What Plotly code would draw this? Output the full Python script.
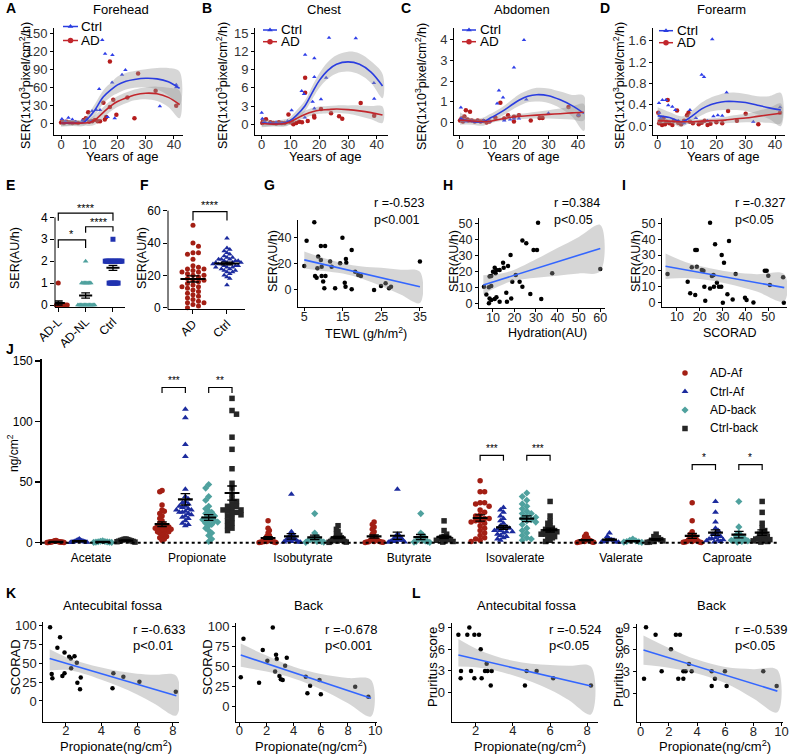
import numpy as np
import plotly.graph_objects as go

W, H = 790, 755
FONT = "Liberation Sans, Arial, sans-serif"

# ------------------------------------------------------------------ DATA
# Panel A-D : sebum excretion rate vs age
fit_age = [0, 4, 8, 10, 12, 15, 18, 20, 23, 26, 30, 34, 38, 42]

A_ctrl_age = [0.3, 1.5, 2.6, 4.0, 5.2, 7.5, 9.0, 10.5, 11.0, 12.5, 13.5, 13.8, 14.6, 15.6, 16.5, 18.1, 18.2, 19.0, 21.6, 22.8, 35.0, 40.8, 40.8]
A_ctrl_val = [7, 3, 9, 6, 2, 4, 6, 3, 20, 22, 57, 22, 139, 116, 10, 68, 114, 8, 81, 89, 28, 64, 60]
A_ad_age = [0, 0.5, 1, 2, 3, 4, 5, 6, 8, 8.8, 9.6, 10, 11, 12, 13, 13.8, 15, 15.5, 16, 17.3, 17.3, 18.5, 19.6, 23.5, 26, 27.3, 33.5, 40.8]
A_ad_val = [1, 3, 0, 2, 1, 0, 1, 0, 5, 8, 18, 2, 3, 5, 3, 3, 34, 6, 10, 103, 27, 39, 14, 43, 8, 83, 54, 29]
A_ctrl_fit = [0, 0, 1, 10, 22, 44, 57, 64, 70, 73, 75, 74, 69, 58]
A_ctrl_lo = [-6, -5, -5, 2, 12, 33, 45, 50, 56, 59, 60, 56, 46, 30]
A_ctrl_hi = [6, 5, 7, 18, 32, 55, 69, 78, 84, 87, 90, 92, 92, 86]
A_ad_fit = [0, 0, 0, 1, 5, 18, 30, 36, 42, 47, 50, 49, 43, 31]
A_ad_lo = [-5, -4, -4, -5, -3, 9, 21, 27, 33, 38, 40, 37, 27, 8]
A_ad_hi = [5, 4, 4, 7, 13, 27, 39, 45, 51, 56, 60, 61, 59, 54]

B_ctrl_age = [0, 0.2, 1, 3, 5, 7, 9, 10.4, 13.9, 14.7, 15, 15.1, 17.7, 18.3, 18.3, 18.3, 20.6, 22.4, 23.4, 32.7, 39, 39.1]
B_ctrl_val = [1.9, 0.9, 0.4, 0.2, 0.3, 0.2, 0.5, 2.3, 5.5, 5.0, 1.1, 11.5, 3.7, 10.9, 7.8, 2.6, 4.1, 7.7, 14.3, 14.2, 6.8, 4.2]
B_ad_age = [0.2, 0.5, 1.5, 3, 4, 5, 6, 7, 8, 9.3, 10, 10.5, 11, 12, 13, 14, 15.1, 15.1, 16, 18.2, 18.3, 20.6, 24.1, 26.9, 28, 34.4, 39.1]
B_ad_val = [0.2, 0.6, 0.8, 0.3, 0.2, 0.1, 0.3, 0.2, 0.2, 1.6, 0.3, 0.5, 0.0, 0.2, 0.4, 0.3, 7.7, 5.2, 0.5, 1.4, 1.1, 2.5, 1.8, 1.3, 0.9, 3.5, 1.4]
B_ctrl_fit = [0.2, 0.1, 0.2, 0.6, 1.4, 3.0, 5.6, 7.2, 8.9, 9.9, 10.3, 9.9, 8.6, 6.3]
B_ctrl_lo = [-0.5, -0.4, -0.4, 0.0, 0.6, 2.1, 4.5, 6.0, 7.5, 8.4, 8.7, 8.2, 6.8, 4.3]
B_ctrl_hi = [0.9, 0.6, 0.8, 1.2, 2.2, 3.9, 6.7, 8.4, 10.3, 11.4, 12.0, 11.7, 10.4, 8.3]
B_ad_fit = [0.1, 0.0, 0.1, 0.4, 0.9, 1.6, 2.1, 2.3, 2.4, 2.5, 2.4, 2.2, 1.9, 1.5]
B_ad_lo = [-0.4, -0.3, -0.3, 0.0, 0.4, 1.0, 1.5, 1.7, 1.8, 1.9, 1.7, 1.3, 0.8, 0.2]
B_ad_hi = [0.6, 0.3, 0.5, 0.8, 1.4, 2.2, 2.7, 2.9, 3.0, 3.1, 3.1, 3.1, 3.0, 2.9]

C_ctrl_age = [0.3, 0.4, 1.0, 2.0, 4.0, 6.0, 8.0, 10.0, 12.6, 13.2, 14.6, 15.0, 17.0, 18.3, 18.3, 20.0, 21.7, 22.5, 30.0, 40.2]
C_ctrl_val = [0.73, 0.2, 0.1, 0.05, 0.08, 0.05, 0.1, 0.05, 0.92, 1.55, 1.21, 0.1, 0.15, 2.67, 0.2, 0.2, 4.0, 1.12, 0.45, 0.36]
C_ad_age = [0, 0.5, 1, 1.5, 2, 2.5, 3, 3.4, 4, 5, 6, 7, 8, 9, 10, 12, 13.7, 15, 16.3, 18.3, 18.3, 20, 24, 27, 28, 36.8, 40.2]
C_ad_val = [0.1, 0.2, 0.05, 0.3, 0.6, 0.15, 0.1, 0.52, 0.1, 0.05, 0.1, 0.05, 0.08, 0.0, 0.05, 0.25, 0.96, 0.2, 0.36, 0.28, 0.05, 0.35, 0.1, 0.22, 0.22, 0.76, 0.36]
C_ctrl_fit = [0.2, 0.05, 0.05, 0.2, 0.35, 0.6, 0.9, 1.08, 1.27, 1.35, 1.3, 1.1, 0.82, 0.45]
C_ctrl_lo = [-0.1, -0.1, -0.15, 0.0, 0.15, 0.38, 0.65, 0.8, 0.98, 1.02, 0.95, 0.7, 0.3, -0.4]
C_ctrl_hi = [0.5, 0.2, 0.25, 0.4, 0.55, 0.82, 1.15, 1.36, 1.56, 1.68, 1.65, 1.5, 1.34, 1.3]
C_ad_fit = [0.12, 0.08, 0.05, 0.05, 0.12, 0.2, 0.27, 0.3, 0.33, 0.36, 0.4, 0.43, 0.47, 0.5]
C_ad_lo = [0.02, 0.02, -0.02, -0.03, 0.03, 0.1, 0.15, 0.17, 0.19, 0.2, 0.2, 0.18, 0.15, 0.1]
C_ad_hi = [0.22, 0.14, 0.12, 0.13, 0.21, 0.3, 0.39, 0.43, 0.47, 0.52, 0.6, 0.68, 0.79, 0.9]

D_ctrl_age = [0.45, 0.5, 1, 1.6, 2.8, 3.6, 5, 6, 7, 9, 11, 13, 15, 15.8, 17, 18.6, 19, 20.5, 22, 23.5, 32.6, 41.7]
D_ctrl_val = [0.43, 0.25, 0.15, 0.49, 0.49, 0.39, 0.36, 0.3, 0.1, 0.05, 0.3, 0.15, 0.96, 0.92, 0.1, 1.63, 0.18, 0.2, 0.19, 0.63, 0.08, 0.35]
D_ad_age = [0.2, 0.5, 1, 1.5, 2, 2.5, 3, 3.4, 4, 5, 5.5, 6.6, 7, 8, 9, 10, 10.5, 11, 12, 14, 15, 16, 17, 18, 20, 22, 24, 27, 30, 34.3, 41.7]
D_ad_val = [0.25, 0.05, 0.1, 0.02, 0.15, 0.03, 0.08, 0.49, 0.05, 0.02, 0.1, 0.29, 0.06, 0.03, 0.1, 0.2, 0.25, 0.08, 0.05, 0.03, 0.06, 0.1, 0.02, 0.04, 0.07, 0.05, 0.28, 0.1, 0.23, 0.03, 0.25]
D_ctrl_fit = [0.19, 0.16, 0.08, 0.12, 0.2, 0.32, 0.4, 0.43, 0.46, 0.46, 0.44, 0.39, 0.34, 0.3]
D_ctrl_lo = [0.03, 0.06, -0.02, 0.03, 0.1, 0.2, 0.27, 0.29, 0.3, 0.3, 0.28, 0.22, 0.13, 0.0]
D_ctrl_hi = [0.35, 0.26, 0.18, 0.21, 0.3, 0.44, 0.53, 0.57, 0.62, 0.63, 0.6, 0.56, 0.56, 0.62]
D_ad_fit = [0.1, 0.09, 0.08, 0.08, 0.08, 0.09, 0.1, 0.1, 0.11, 0.13, 0.15, 0.18, 0.21, 0.24]
D_ad_lo = [0.05, 0.05, 0.04, 0.04, 0.04, 0.04, 0.05, 0.05, 0.05, 0.06, 0.07, 0.07, 0.06, 0.05]
D_ad_hi = [0.16, 0.13, 0.12, 0.12, 0.12, 0.13, 0.14, 0.15, 0.17, 0.2, 0.23, 0.28, 0.34, 0.42]

# Panel E
E_groups = ["AD-L", "AD-NL", "Ctrl"]
E_adl = [1, 0, 0, 0, 0, 0, 0, 0, 0, 0, 0]
E_adnl = [0, 0, 0, 0, 0, 0, 0, 0, 0, 0, 0, 0, 0, 0, 1, 1, 1, 1, 1, 1, 1, 1, 2]
E_ctrl = [1, 1, 1, 1, 1, 1, 1, 1, 2, 2, 2, 2, 2, 2, 2, 2, 2, 2, 2, 2, 2, 2, 3]

# Panel F
F_groups = ["AD", "Ctrl"]
F_ad = [51, 40, 38, 34, 34, 33, 30, 26, 25, 24, 23, 22, 21, 20, 20, 19, 18, 17, 16, 15, 14, 13, 12, 11, 10, 9, 8, 7, 6, 5, 4, 3, 3, 2, 1, 0, 22, 24, 17, 13]
F_ctrl = [43, 37, 36, 35, 34, 33, 32, 31, 31, 30, 30, 29, 29, 28, 28, 28, 27, 27, 27, 26, 26, 26, 25, 25, 25, 24, 24, 23, 23, 22, 22, 21, 20, 19, 18, 14, 29, 30, 27, 28]

# Panel G (TEWL vs SER)
G_x = [7.6, 5.6, 5.0, 9.3, 10.4, 14.9, 17.3, 15.8, 15.9, 7.8, 8.2, 9.5, 10.5, 9.3, 9.9, 10.2, 13.0, 15.5, 15.7, 17.3, 8.6, 8.4, 9.5, 11.7, 12.1, 14.3, 18.2, 19.0, 19.7, 23.1, 24.9, 26.1, 27.0, 27.5, 35.0]
G_y = [51.7, 37.7, 18.3, 33.6, 33.6, 40.0, 30.6, 23.7, 20.9, 10.7, 9.4, 10.7, 10.7, 22.9, 6.4, 1.3, 1.3, 5.6, 2.5, 0.5, 25.5, 16.6, 17.8, 21.7, 17.8, 20.4, 14.0, 11.5, 10.7, 0.0, 3.0, 5.1, 1.3, 2.5, 21.7]
G_fx = [5, 10, 15, 20, 25, 30, 35]
G_fit = [23.0, 19.6, 16.2, 12.7, 9.3, 5.9, 2.5]
G_lo = [16.5, 14.5, 12.5, 8.5, 3.0, -3.5, -10.0]
G_hi = [29.5, 24.5, 20.5, 18.0, 17.0, 15.5, 14.0]

# Panel H (Hydration vs SER)
H_x = [31.0, 23.7, 25.5, 28.9, 30.5, 18.2, 14.7, 15.0, 17.0, 13.1, 10.8, 11.6, 10.0, 11.2, 9.2, 8.4, 20.6, 19.0, 22.4, 23.7, 37.6, 60.0, 5.8, 8.1, 9.2, 6.9, 16.2, 27.4, 32.5, 18.5, 8.4, 9.2, 8.1, 10.8, 11.6, 13.1, 16.5]
H_y = [50.4, 39.2, 37.5, 33.3, 33.3, 30.2, 25.4, 22.3, 23.3, 20.8, 22.3, 20.8, 19.8, 18.8, 17.1, 16.7, 17.7, 13.5, 13.5, 10.4, 18.8, 21.5, 10.4, 10.0, 10.8, 5.6, 6.7, 5.8, 2.7, 3.1, 3.1, 2.1, 0.0, 2.7, 3.8, 1.0, 1.0]
H_fx = [5.5, 10, 15, 20, 30, 40, 50, 60]
H_fit = [11.5, 13.4, 15.5, 17.6, 21.7, 25.9, 30.1, 34.3]
H_lo = [5.5, 9.0, 12.0, 14.2, 16.0, 17.3, 18.7, 20.0]
H_hi = [17.5, 18.0, 19.0, 21.0, 27.5, 34.5, 41.5, 49.0]

# Panel I (SCORAD vs SER)
I_x = [24.5, 26.7, 32.8, 18.0, 18.7, 29.6, 30.6, 5.9, 16.5, 18.7, 20.9, 21.6, 25.3, 26.0, 35.7, 48.5, 49.3, 50.0, 50.7, 56.5, 56.8, 14.7, 15.8, 18.0, 22.0, 24.5, 26.2, 28.4, 29.4, 22.4, 30.1, 32.1, 34.4, 39.8, 40.5, 43.5, 27.5]
I_y = [50.4, 36.8, 38.9, 33.2, 33.2, 30.0, 25.2, 18.1, 22.3, 22.7, 20.6, 20.2, 16.8, 17.4, 18.1, 20.2, 20.2, 17.0, 11.1, 16.0, 0.0, 13.2, 5.9, 4.8, 10.0, 9.0, 10.0, 10.0, 10.0, 1.3, 0.0, 5.3, 2.1, 3.2, 1.7, 0.2, 12.6]
I_fx = [5, 15, 25, 35, 45, 57]
I_fit = [23.0, 20.4, 17.8, 15.2, 12.6, 9.5]
I_lo = [15.0, 15.5, 14.0, 11.0, 7.0, 1.0]
I_hi = [31.0, 25.0, 21.5, 19.0, 18.0, 18.0]

# Panel J (SCFA, ng/cm2)
J_acids = ["Acetate", "Propionate", "Isobutyrate", "Butyrate", "Isovalerate", "Valerate", "Caproate"]
J_series = ["AD-Af", "Ctrl-Af", "AD-back", "Ctrl-back"]
J_AD_Af = [
    [0.5, 1, 0.3, 0.8, 1.2, 0.2, 0.6, 1.5, 0.4, 0.9, 0.1, 1.1, 0.7, 0.3, 0.5, 1.8, 0.6, 0.2],
    [43, 42, 31, 27, 26, 24, 22, 20, 18, 16, 15, 14, 13, 13, 12, 12, 11, 10, 10, 9, 8, 7, 6, 5, 4, 3, 2, 14, 11, 9],
    [18, 12, 10, 8, 6, 5, 4, 3, 2, 2, 1, 1, 1, 0.5, 0.5, 0.3, 0.2, 0.1, 0.8, 1.5],
    [17, 15, 13, 11, 9, 7, 5, 4, 3, 2, 2, 1, 1, 0.5, 0.5, 0.3, 0.2, 0.8],
    [51, 42, 42, 33, 33, 32, 30, 27, 25, 23, 22, 20, 18, 16, 14, 12, 10, 8, 6, 4, 3, 2, 1, 20, 18, 17],
    [7, 5, 4, 3, 2, 2, 1, 1, 0.5, 0.5, 0.3, 0.2, 1.5, 0.8],
    [33, 18, 9, 7, 6, 5, 4, 3, 2, 1, 1, 0.5, 0.5, 0.3, 0.2, 1.5, 2.5],
]
J_Ctrl_Af = [
    [2, 1.5, 1, 0.5, 3, 2.5, 0.8, 1.2, 0.3, 0.6, 1.8, 0.2, 0.4, 1.1],
    [110, 103, 81, 71, 44, 38, 36, 34, 33, 32, 30, 30, 29, 28, 27, 26, 25, 24, 23, 22, 21, 20, 18, 16, 15, 14, 27, 25],
    [40, 9, 7, 6, 5, 4, 3, 3, 2, 2, 1, 1, 0.5, 0.5, 0.3, 1.5, 2.5],
    [44, 7, 6, 5, 4, 3, 3, 2, 2, 1, 1, 0.5, 0.3, 1.5],
    [29, 27, 25, 22, 20, 18, 16, 14, 13, 12, 11, 10, 9, 8, 7, 6, 5, 4, 3, 2, 12, 10, 9],
    [8, 5, 3, 2, 1, 0.5, 0.3, 1.5, 2.5, 0.8],
    [34, 25, 17, 12, 10, 8, 7, 6, 5, 4, 3, 2, 1, 0.5, 1.5, 2.5, 3.5],
]
J_AD_back = [
    [1, 0.5, 0.3, 1.5, 0.8, 0.2, 1.2, 0.6, 0.4],
    [48, 45, 38, 35, 30, 28, 26, 24, 22, 20, 19, 18, 17, 16, 15, 14, 12, 10, 8, 6, 3, 1, 20, 18, 22, 25],
    [24, 8, 5, 4, 3, 2, 1, 1, 0.5, 0.3, 1.5, 2.5],
    [24, 8, 6, 4, 3, 2, 1, 1, 0.5, 0.3, 1.5],
    [41, 38, 35, 32, 30, 28, 26, 24, 22, 20, 18, 17, 15, 12, 10, 8, 6, 4, 3, 2, 19, 21, 24],
    [3, 2, 1, 0.5, 0.3, 1.5, 0.8],
    [34, 13, 8, 6, 5, 4, 3, 2, 1, 0.5, 1.5, 2.5],
]
J_Ctrl_back = [
    [3, 2.5, 2, 1.5, 1, 0.5, 2.2, 1.8, 1.2, 0.8, 2.8],
    [119, 109, 106, 87, 77, 61, 49, 45, 40, 36, 34, 32, 30, 28, 27, 26, 25, 24, 23, 22, 20, 18, 16, 14, 12, 10, 30, 27],
    [14, 11, 9, 7, 6, 5, 4, 3, 2, 2, 1, 1, 0.5, 0.3, 1.5, 2.5, 3.5],
    [18, 10, 7, 5, 4, 3, 2, 1, 0.5, 1.5, 2.5, 3.5],
    [34, 22, 18, 16, 14, 12, 11, 10, 9, 8, 7, 6, 5, 4, 3, 2, 1, 9, 8, 7, 12, 10],
    [7, 5, 3, 2, 1, 0.5, 0.3, 1.5, 2.5, 4],
    [34, 25, 16, 12, 10, 8, 6, 5, 4, 3, 2, 1, 0.5, 1.5, 2.5, 3.5, 7],
]

# Panel K (Propionate vs SCORAD)
K1_x = [1.12, 1.68, 1.53, 1.93, 2.19, 2.28, 2.49, 2.62, 2.30, 1.21, 1.25, 1.81, 1.93, 2.65, 2.84, 2.80, 4.67, 5.23, 6.13, 4.62, 8.17]
K1_y = [97, 83.8, 70, 64, 58.3, 56, 59, 50.4, 43, 35.5, 29.8, 32.9, 36.4, 24, 31, 15.4, 36.4, 32, 25.4, 16.7, 12.3]
K1_fx = [1.1, 2, 3, 4, 5, 6, 7, 8.2]
K1_fit = [56, 49.8, 42.9, 36, 29.1, 22.2, 15.3, 7]
K1_lo = [40, 41, 36, 28, 19, 8.5, -4, -19]
K1_hi = [68, 58, 50, 44, 39, 36, 34.5, 33]
K2_x = [0.3, 0.1, 1.72, 1.45, 2.06, 2.46, 2.7, 2.75, 2.63, 2.95, 3.05, 3.19, 3.37, 3.49, 4.89, 5.01, 5.21, 5.9, 6.0, 8.53, 9.5]
K2_y = [84, 35.8, 70, 29, 56.7, 98, 64, 58.8, 43, 37.5, 33.3, 32.5, 50.4, 60.4, 36.7, 15.8, 25.4, 32.5, 14.6, 24.2, 11.7]
K2_fx = [0.1, 2, 4, 6, 8, 9.7]
K2_fit = [63.7, 53, 41.7, 30.4, 19.2, 9.6]
K2_lo = [49, 43, 34.5, 21, 3.5, -13]
K2_hi = [78, 63, 49, 40, 35, 32.5]

# Panel L (Propionate vs pruritus)
L1_x = [1.07, 1.66, 1.55, 1.93, 2.18, 2.27, 1.21, 1.19, 1.75, 1.93, 2.32, 2.5, 2.59, 2.64, 2.86, 2.81, 4.74, 5.28, 4.65, 6.17, 8.2]
L1_y = [8, 9, 8, 8, 8, 6, 3, 2, 3, 2, 2, 3, 4, 3, 3, 1, 3, 3, 1, 2, 1]
L1_fx = [1.07, 2, 3, 4, 5, 6, 7, 8.2]
L1_fit = [5.2, 4.64, 4.04, 3.44, 2.84, 2.24, 1.64, 0.92]
L1_lo = [3.6, 3.5, 3.1, 2.4, 1.5, 0.4, -1.0, -3.0]
L1_hi = [7.4, 6.1, 5.1, 4.4, 4.0, 3.8, 3.7, 3.6]
L2_x = [0.24, 0.38, 1.06, 1.49, 2.15, 2.5, 2.79, 2.67, 3.03, 3.03, 3.19, 3.43, 3.62, 5.04, 5.04, 5.27, 5.98, 6.1, 8.7, 9.65]
L2_y = [2, 9, 8, 3, 6, 8, 8, 2, 2, 3, 3, 4, 3, 3, 1, 2, 3, 1, 3, 1]
L2_fx = [0.2, 2, 4, 6, 8, 9.7]
L2_fit = [5.9, 4.84, 3.66, 2.48, 1.3, 0.3]
L2_lo = [3.9, 3.5, 2.7, 1.4, -0.7, -2.6]
L2_hi = [7.9, 6.2, 4.6, 3.6, 3.3, 3.2]

# ------------------------------------------------------------------ STYLE
BLUE_L, RED_L = "#2a3de0", "#c2262c"
BLUE_M, RED_M = "#2f3fe8", "#b51d1d"
BAND = "rgba(153,153,153,0.4)"
REG = "#3366ff"
C_RED, C_BLUE, C_TEAL, C_BLACK = "#a31f14", "#1c2b9e", "#4fa19e", "#262626"

fig = go.Figure()
fig.update_layout(template="none")
anns, shapes = [], []
geo = {}


def keys(n):
    s = "" if n == 1 else str(n)
    return "xaxis" + s, "yaxis" + s, "x" + s, "y" + s


def add_axes(n, box, xr, yr, xo=None, yo=None, tick=12, tcol="#333", xstand=-6):
    l, r, t, b = box
    geo[n] = (box, xr, yr)
    xk, yk, xn, yn = keys(n)
    base = dict(showgrid=False, zeroline=False, showline=True, linecolor="black", linewidth=1,
                ticks="outside", ticklen=3, tickwidth=1, tickcolor="black", fixedrange=True,
                automargin=False, tickfont=dict(family=FONT, size=tick, color=tcol))
    xa = dict(base, domain=[l / W, r / W], range=xr, anchor=yn, ticklabelstandoff=xstand)
    ya = dict(base, domain=[1 - b / H, 1 - t / H], range=yr, anchor=xn)
    xa.update(xo or {})
    ya.update(yo or {})
    fig.update_layout({xk: xa, yk: ya})


def vy(n, v):
    (l, r, t, b), xr, yr = geo[n]
    return b - (v - yr[0]) / (yr[1] - yr[0]) * (b - t)


def ann(text, x, y, size=12, xa="center", ya="middle", angle=0, bold=False, color="black"):
    if bold:
        text = "<b>" + text + "</b>"
    anns.append(dict(text=text, x=x / W, y=1 - y / H, xref="paper", yref="paper", showarrow=False,
                     xanchor=xa, yanchor=ya, textangle=angle,
                     font=dict(family=FONT, size=size, color=color)))


def pline(x0, y0, x1, y1, w=1, color="black", dash="solid"):
    shapes.append(dict(type="line", xref="paper", yref="paper", x0=x0 / W, x1=x1 / W,
                       y0=1 - y0 / H, y1=1 - y1 / H, line=dict(color=color, width=w, dash=dash)))


def sc(n, x, y, **kw):
    _, _, xn, yn = keys(n)
    fig.add_trace(go.Scatter(x=x, y=y, xaxis=xn, yaxis=yn, showlegend=False, hoverinfo="skip", **kw))


def band(n, xs, lo, hi, spline=True):
    sc(n, list(xs) + list(xs)[::-1], list(hi) + list(lo)[::-1], mode="lines", fill="toself",
       fillcolor=BAND, line=dict(width=0, shape="spline" if spline else "linear"))


def swarm(vals, ypu, d, maxw, xpu):
    vals = np.asarray(vals, float)
    order = np.argsort(-vals)
    placed, offs = [], np.zeros(len(vals))
    for cnt, i in enumerate(order):
        y = vals[i] * ypu
        k = 0
        while True:
            sgn = 1 if cnt % 2 == 0 else -1
            cands = [0.0] if k == 0 else [sgn * k * d * 0.55, -sgn * k * d * 0.55]
            got = None
            for c in cands:
                if all((c - px) ** 2 + (y - py) ** 2 >= (d * 0.95) ** 2 for px, py in placed):
                    got = c
                    break
            if got is not None:
                break
            k += 1
        placed.append((got, y))
        offs[i] = got
    m = np.max(np.abs(offs)) if len(offs) else 0
    if m > maxw:
        offs *= maxw / m
    return offs / xpu


def unit_px(n):
    (l, r, t, b), xr, yr = geo[n]
    return (r - l) / (xr[1] - xr[0]), (b - t) / (yr[1] - yr[0])


def mean_sem(n, xc, vals, hw, cw, wm=2, ws=1.3):
    v = np.asarray(vals, float)
    m = v.mean()
    s = v.std(ddof=1) / np.sqrt(len(v))
    sc(n, [xc - hw, xc + hw], [m, m], mode="lines", line=dict(color="black", width=wm))
    sc(n, [xc, xc, None, xc - cw, xc + cw, None, xc - cw, xc + cw],
       [m - s, m + s, None, m + s, m + s, None, m - s, m - s], mode="lines",
       line=dict(color="black", width=ws))


def bracket(n, x0, x1, y, yl0, yl1, star, ys, size=11):
    _, _, xn, yn = keys(n)
    shapes.append(dict(type="path", xref=xn, yref=yn,
                       path=f"M {x0},{yl0} L {x0},{y} L {x1},{y} L {x1},{yl1}",
                       line=dict(color="black", width=1.2)))
    anns.append(dict(text=star, x=(x0 + x1) / 2, y=ys, xref=xn, yref=yn, showarrow=False,
                     font=dict(family=FONT, size=size, color="black")))


# ------------------------------------------------------------------ TOP ROW (A-D)
top = [
    (1, "A", "Forehead", (54, 183, 27.5, 135), [-2.5, 43.2], [-20, 160], [0, 30, 60, 90, 120, 150], None,
     A_ctrl_age, A_ctrl_val, A_ad_age, A_ad_val, A_ctrl_fit, A_ctrl_lo, A_ctrl_hi, A_ad_fit, A_ad_lo, A_ad_hi,
     (63, 78, 79, 26.5, 40.5), 25),
    (2, "B", "Chest", (255, 388, 27.5, 135), [-2.33, 43.9], [-1.8, 16], [0, 3, 6, 9, 12, 15], None,
     B_ctrl_age, B_ctrl_val, B_ad_age, B_ad_val, B_ctrl_fit, B_ctrl_lo, B_ctrl_hi, B_ad_fit, B_ad_lo, B_ad_hi,
     (263, 277, 279, 30, 41.7), 222),
    (3, "C", "Abdomen", (454, 585, 27.5, 135), [-2.03, 42.4], [-0.6, 4.6], [0, 1, 2, 3, 4], None,
     C_ctrl_age, C_ctrl_val, C_ad_age, C_ad_val, C_ctrl_fit, C_ctrl_lo, C_ctrl_hi, C_ad_fit, C_ad_lo, C_ad_hi,
     (462, 476, 478, 30, 41.7), 421),
    (4, "D", "Forearm", (653, 785, 27.5, 135), [-1.6, 43.4], [-0.17, 1.85], [0, 0.4, 0.8, 1.2, 1.6],
     ["0.0", "0.4", "0.8", "1.2", "1.6"],
     D_ctrl_age, D_ctrl_val, D_ad_age, D_ad_val, D_ctrl_fit, D_ctrl_lo, D_ctrl_hi, D_ad_fit, D_ad_lo, D_ad_hi,
     (659, 673, 675, 30.7, 42.7), 619),
]
for (n, lab, title, box, xr, yr, yt, ytt, ca, cv, aa, av, cf, clo, chi, af, alo, ahi, leg, ytx) in top:
    yo = dict(tickvals=yt)
    if ytt:
        yo["ticktext"] = ytt
    add_axes(n, box, xr, yr, xo=dict(tickvals=[0, 10, 20, 30, 40]), yo=yo, tick=13, xstand=-6)
    sc(n, aa, av, mode="markers", marker=dict(symbol="circle", size=4.5, color=RED_M))
    sc(n, ca, cv, mode="markers", marker=dict(symbol="triangle-up", size=4, color=BLUE_M))
    band(n, fit_age, clo, chi)
    band(n, fit_age, alo, ahi)
    sc(n, fit_age, cf, mode="lines", line=dict(color=BLUE_L, width=1.6, shape="spline"))
    sc(n, fit_age, af, mode="lines", line=dict(color=RED_L, width=1.6, shape="spline"))
    l, r, t, b = box
    ann(lab, l - 50 if n == 1 else l - 55, 8, size=14, bold=True, xa="left")
    ann(title, (l + r) / 2 + 2, 9, size=13)
    ann("Years of age", (l + r) / 2 + 4, 156, size=13)
    ann("SER(1x10<sup>3</sup>pixel/cm<sup>2</sup>/h)", ytx, 86, size=12.5, angle=-90)
    lx0, lx1, tx, yc, ya_ = leg
    pline(lx0, yc, lx1, yc, w=1.5, color=BLUE_L)
    pline(lx0, ya_, lx1, ya_, w=1.5, color=RED_L)
    ann("Ctrl", tx, yc, size=13.5, xa="left")
    ann("AD", tx, ya_, size=13.5, xa="left")

# ------------------------------------------------------------------ E
add_axes(5, (55, 125, 202, 307.2), [-0.12, 2.44], [-0.1, 4.7],
         xo=dict(tickvals=[0, 1, 2], ticktext=E_groups, tickangle=-45, ticklen=4),
         yo=dict(tickvals=[0, 1, 2, 3, 4], showline=False, ticklen=4), tick=12, tcol="black", xstand=-2)
pline(55, vy(5, -0.1), 55, vy(5, 4), w=1)
xpu, ypu = unit_px(5)
for gi, (vals, sym, col) in enumerate([(E_adl, "circle", C_RED), (E_adnl, "triangle-up", C_TEAL),
                                       (E_ctrl, "square", "#2032b0")]):
    off = swarm(vals, ypu, 5, 9, xpu)
    sc(5, list(gi + off), vals, mode="markers", marker=dict(symbol=sym, size=5, color=col), cliponaxis=False)
    mean_sem(5, gi, vals, 0.24, 0.16)
bracket(5, 0, 2, 4.19, 3.85, 3.85, "****", 4.43)
bracket(5, 1, 2, 3.57, 3.3, 3.35, "****", 3.81)
bracket(5, 0, 1, 2.97, 2.6, 2.6, "*", 3.22)
ann("E", 4, 185, size=14, bold=True, xa="left")
ann("SER(AU/h)", 15, 258, size=12.5, angle=-90)

# ------------------------------------------------------------------ F
add_axes(6, (168, 245, 201, 309.3), [-0.735, 1.53], [-1, 66],
         xo=dict(tickvals=[0, 1], ticktext=F_groups, tickangle=-45, ticklen=4),
         yo=dict(tickvals=[0, 20, 40, 60], showline=False, ticklen=4), tick=12, tcol="black", xstand=-2)
pline(168, vy(6, -1), 168, vy(6, 60), w=1)
xpu, ypu = unit_px(6)
for gi, (vals, sym, col) in enumerate([(F_ad, "circle", C_RED), (F_ctrl, "triangle-up", C_BLUE)]):
    off = swarm(vals, ypu, 5, 14, xpu)
    sc(6, list(gi + off), vals, mode="markers", marker=dict(symbol=sym, size=5, color=col), cliponaxis=False)
    mean_sem(6, gi, vals, 0.37, 0.18)
bracket(6, 0, 1, 59.4, 54, 54, "****", 63.8)
ann("F", 138, 185, size=14, bold=True, xa="left")
ann("SER(AU/h)", 142, 258, size=12.5, angle=-90)

# ------------------------------------------------------------------ G, H, I
scat = [
    (7, "G", (298, 423, 220, 306.7), [3.37, 35.8], [-12.8, 53.5], [5, 15, 25, 35], [0, 20, 40],
     G_x, G_y, G_fx, G_fit, G_lo, G_hi, "TEWL (g/h/m<sup>2</sup>)", "r =-0.523", "p<0.001", 372, 262, 273),
    (8, "H", (479, 605, 218, 308), [3.48, 62.2], [-2.9, 53.3], [10, 20, 30, 40, 50, 60], [0, 10, 20, 30, 40, 50],
     H_x, H_y, H_fx, H_fit, H_lo, H_hi, "Hydration(AU)", "r =0.384", "p<0.05", 552, 441, 454),
    (9, "I", (662, 787, 218, 307), [3.45, 58.2], [-2.7, 53.4], [10, 20, 30, 40, 50], [0, 10, 20, 30, 40, 50],
     I_x, I_y, I_fx, I_fit, I_lo, I_hi, "SCORAD", "r =-0.327", "p<0.05", 733, 620, 636),
]
for (n, lab, box, xr, yr, xt, yt, px_, py_, fx, ff, flo, fhi, xtitle, rt, pt, rx, labx, ytx) in scat:
    add_axes(n, box, xr, yr, xo=dict(tickvals=xt), yo=dict(tickvals=yt), tick=12.5, tcol="#222", xstand=-5)
    sc(n, px_, py_, mode="markers", marker=dict(symbol="circle", size=4.5, color="black"))
    band(n, fx, flo, fhi)
    sc(n, [fx[0], fx[-1]], [ff[0], ff[-1]], mode="lines", line=dict(color=REG, width=1.6))
    l, r, t, b = box
    ann(lab, labx, 185, size=14, bold=True, xa="left")
    ann(xtitle, (l + r) / 2 + 5, 333, size=12.5)
    ann(rt, rx, 203, size=12.5, xa="left")
    ann(pt, rx, 220, size=12.5, xa="left")
    ann("SER(AU/h)", ytx, 261, size=12.5, angle=-90)

# ------------------------------------------------------------------ J
add_axes(10, (41.7, 777, 359, 544.5), [-0.465, 6.47], [-1.5, 151.5],
         xo=dict(tickvals=list(range(7)), ticktext=J_acids, showline=False, ticks="", ticklen=0),
         yo=dict(tickvals=[0, 50, 100, 150], linewidth=1.5, ticklen=5, tickwidth=1.5), tick=12, tcol="black",
         xstand=4)
shapes.append(dict(type="line", xref="paper", yref="paper", x0=41.7 / W, x1=777 / W,
                   y0=1 - vy(10, 0) / H, y1=1 - vy(10, 0) / H, line=dict(color="black", width=2, dash="dot")))
xpu, ypu = unit_px(10)
spacing = 0.22
styles = [("circle", C_RED, 5.5), ("triangle-up", C_BLUE, 6), ("diamond", C_TEAL, 5.5), ("square", C_BLACK, 5.5)]
for si, data in enumerate([J_AD_Af, J_Ctrl_Af, J_AD_back, J_Ctrl_back]):
    sym, col, sz = styles[si]
    xs_all, ys_all = [], []
    for ai, vals in enumerate(data):
        xc = ai + (si - 1.5) * spacing
        off = swarm(vals, ypu, 5, 9, xpu)
        xs_all += list(xc + off)
        ys_all += list(vals)
    sc(10, xs_all, ys_all, mode="markers", marker=dict(symbol=sym, size=sz, color=col), cliponaxis=False)
for si, data in enumerate([J_AD_Af, J_Ctrl_Af, J_AD_back, J_Ctrl_back]):
    for ai, vals in enumerate(data):
        xc = ai + (si - 1.5) * spacing
        mean_sem(10, xc, vals, 0.07, 0.045, wm=2.2, ws=1.3)
pairs = [(1, 0, 1, 128, "***"), (1, 2, 3, 128, "**"), (4, 0, 1, 72, "***"), (4, 2, 3, 72, "***"),
         (6, 0, 1, 64.4, "*"), (6, 2, 3, 64.4, "*")]
for ai, s0, s1, yb, st in pairs:
    x0 = ai + (s0 - 1.5) * spacing
    x1 = ai + (s1 - 1.5) * spacing
    bracket(10, x0, x1, yb, yb - 4.5, yb - 4.5, st, yb + 6, size=10)
ann("J", 4, 349, size=14, bold=True, xa="left")
ann("ng/cm<sup>2</sup>", 13, 453, size=12, angle=-90)
leg_y = [373, 391.5, 410, 428.5]
fig.update_layout(xaxis15=dict(domain=[0, 1], range=[0, W], visible=False, fixedrange=True, anchor="y15",
                               automargin=False),
                  yaxis15=dict(domain=[0, 1], range=[H, 0], visible=False, fixedrange=True, anchor="x15",
                               automargin=False))
for si, name in enumerate(J_series):
    sym, col, sz = styles[si]
    fig.add_trace(go.Scatter(x=[685], y=[leg_y[si]], xaxis="x15", yaxis="y15", mode="markers",
                             marker=dict(symbol=sym, size=sz, color=col), showlegend=False, hoverinfo="skip"))
    ann(name, 708, leg_y[si], size=12, xa="left")
# legend markers for A-D
for (n, lab, title, box, *_rest) in top:
    leg = _rest[-2]
    lx0, lx1, tx, yc, ya_ = leg
    fig.add_trace(go.Scatter(x=[(lx0 + lx1) / 2], y=[yc], xaxis="x15", yaxis="y15", mode="markers",
                             marker=dict(symbol="triangle-up", size=5, color=BLUE_L), showlegend=False,
                             hoverinfo="skip"))
    fig.add_trace(go.Scatter(x=[(lx0 + lx1) / 2], y=[ya_], xaxis="x15", yaxis="y15", mode="markers",
                             marker=dict(symbol="circle", size=5.5, color=RED_L), showlegend=False,
                             hoverinfo="skip"))

# ------------------------------------------------------------------ K, L
kl = [
    (11, (43.3, 179, 622, 721.5), [0.74, 8.35], [-27, 104], [2, 4, 6, 8], [0, 25, 50, 75, 100],
     K1_x, K1_y, K1_fx, K1_fit, K1_lo, K1_hi, "Antecubital fossa", "r =-0.633", "p<0.01", 131, "SCORAD", 15),
    (12, (236, 376.5, 622.8, 721.7), [-0.25, 10.1], [-19.6, 104], [0, 2, 4, 6, 8, 10], [0, 25, 50, 75, 100],
     K2_x, K2_y, K2_fx, K2_fit, K2_lo, K2_hi, "Back", "r =-0.678", "p<0.001", 323, "SCORAD", 207),
    (13, (451.7, 598, 623.4, 721.7), [0.71, 8.58], [-4, 9.55], [2, 4, 6, 8], [0, 3, 6, 9],
     L1_x, L1_y, L1_fx, L1_fit, L1_lo, L1_hi, "Antecubital fossa", "r =-0.524", "p<0.05", 547, "Pruritus score", 432),
    (14, (636.7, 783, 623.7, 721.9), [-0.28, 10.1], [-3.9, 9.5], [0, 2, 4, 6, 8, 10], [0, 3, 6, 9],
     L2_x, L2_y, L2_fx, L2_fit, L2_lo, L2_hi, "Back", "r =-0.539", "p<0.05", 733, "Pruritus score", 618),
]
for (n, box, xr, yr, xt, yt, px_, py_, fx, ff, flo, fhi, title, rt, pt, rx, ytitle, ytx) in kl:
    add_axes(n, box, xr, yr, xo=dict(tickvals=xt), yo=dict(tickvals=yt), tick=13, tcol="#222", xstand=-6)
    sc(n, px_, py_, mode="markers", marker=dict(symbol="circle", size=4.5, color="black"))
    band(n, fx, flo, fhi)
    sc(n, [fx[0], fx[-1]], [ff[0], ff[-1]], mode="lines", line=dict(color=REG, width=1.6))
    l, r, t, b = box
    ann(title, (l + r) / 2 + 2, 605, size=13)
    ann("Propionate(ng/cm<sup>2</sup>)", (l + r) / 2 + 5, 746, size=13)
    ann(rt, rx, 629, size=13, xa="left")
    ann(pt, rx, 645, size=13, xa="left")
    ann(ytitle, ytx, 667, size=13, angle=-90)
ann("K", 4, 593, size=14, bold=True, xa="left")
ann("L", 410, 593, size=14, bold=True, xa="left")

fig.update_layout(width=W, height=H, margin=dict(l=0, r=0, t=0, b=0, pad=0, autoexpand=False),
                  paper_bgcolor="white", plot_bgcolor="rgba(0,0,0,0)", showlegend=False,
                  annotations=anns, shapes=shapes, font=dict(family=FONT))
fig.write_html("out.html", config={"displayModeBar": False, "staticPlot": True},
               post_script="document.body.style.margin='0';document.body.style.overflow='hidden';")
